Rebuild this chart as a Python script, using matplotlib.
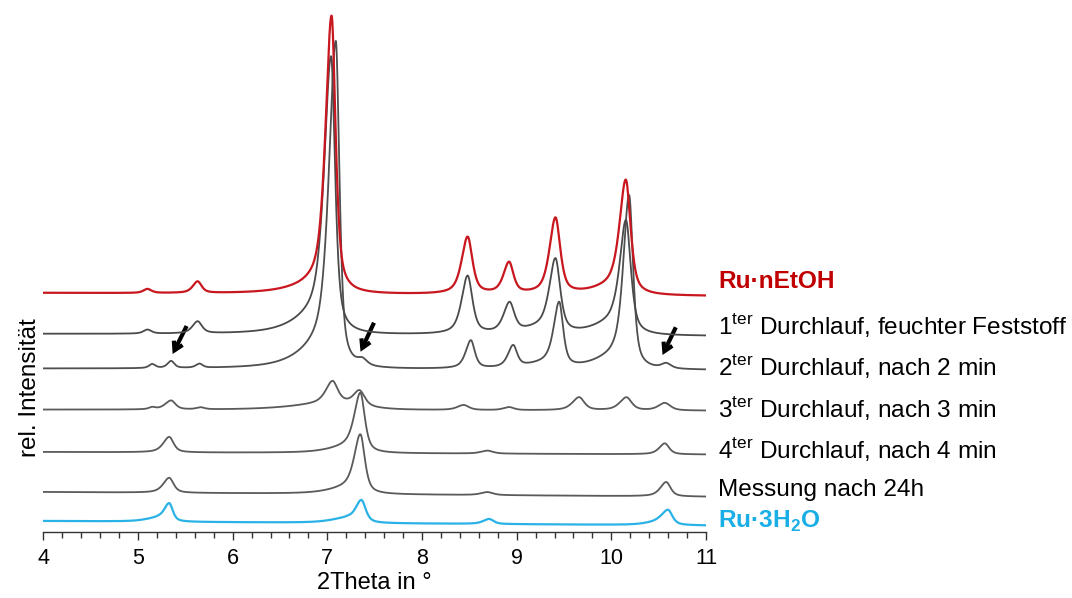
import numpy as np
import matplotlib
matplotlib.use("Agg")
import matplotlib.pyplot as plt

plt.rcParams['font.family'] = ['Liberation Sans', 'DejaVu Sans']
plt.rcParams['mathtext.fontset'] = 'custom'
plt.rcParams['mathtext.rm'] = 'Liberation Sans'
plt.rcParams['mathtext.bf'] = 'Liberation Sans:bold'

# 2Theta range of the scans
theta_min, theta_max = 4.0, 11.0

# Pattern names (top to bottom)
labels = [
    "Ru·nEtOH",
    r"1$^{\mathrm{ter}}$ Durchlauf, feuchter Feststoff",
    r"2$^{\mathrm{ter}}$ Durchlauf, nach 2 min",
    r"3$^{\mathrm{ter}}$ Durchlauf, nach 3 min",
    r"4$^{\mathrm{ter}}$ Durchlauf, nach 4 min",
    "Messung nach 24h",
    r"Ru·3H$_\mathbf{2}$O",
]

# Vertical stacking offsets (baseline at 4° and at 11°)
base_left = [238.7, 197.7, 163.0, 122.0, 79.7, 39.7, 10.7]
base_right = [235.7, 195.7, 161.7, 121.0, 77.2, 35.0, 6.2]

# Reflections of each pattern:
# (2Theta position, intensity, half width on the low-angle side, half width on the high-angle side)
peaks_etoh = [(5.10, 4, 0.05, 0.05), (5.63, 11.5, 0.06, 0.05), (6.95, 7, 0.35, 0.12),
              (7.045, 274, 0.075, 0.05),
              (8.482, 57, 0.075, 0.06), (8.92, 31, 0.07, 0.055), (9.41, 76, 0.075, 0.06),
              (10.0, 6, 0.25, 0.1), (10.153, 114, 0.08, 0.06)]
peaks_run1 = [(5.10, 4, 0.05, 0.05), (5.63, 12, 0.065, 0.055), (6.9, 14, 0.3, 0.1),
              (7.04, 274, 0.085, 0.05),
              (8.482, 58, 0.075, 0.06), (8.925, 29.5, 0.075, 0.06), (9.3, 6, 0.25, 0.1),
              (9.41, 72.5, 0.075, 0.06), (10.0, 9, 0.25, 0.1), (10.155, 113, 0.08, 0.06)]
peaks_run2 = [(5.15, 4, 0.04, 0.04), (5.35, 7, 0.045, 0.04), (5.65, 4, 0.045, 0.04),
              (6.95, 16, 0.3, 0.1), (7.09, 323, 0.085, 0.045), (7.37, 6, 0.06, 0.06),
              (8.516, 28, 0.065, 0.05), (8.963, 21.5, 0.065, 0.05), (9.3, 4, 0.25, 0.1),
              (9.449, 64.5, 0.07, 0.05), (10.0, 8, 0.25, 0.1), (10.188, 173, 0.075, 0.05),
              (10.58, 5, 0.06, 0.06)]
peaks_run3 = [(5.15, 2, 0.04, 0.04), (5.35, 9, 0.075, 0.055), (5.66, 2, 0.05, 0.05),
              (7.1, 7, 0.5, 0.3), (7.055, 21.7, 0.085, 0.065), (7.34, 15, 0.075, 0.065),
              (8.44, 5, 0.08, 0.065), (8.92, 3, 0.07, 0.06), (9.66, 13, 0.085, 0.065),
              (10.16, 13, 0.085, 0.065), (10.565, 7.5, 0.08, 0.07)]
peaks_run4 = [(5.33, 15.5, 0.075, 0.055), (7.25, 6, 0.25, 0.1), (7.35, 57.4, 0.075, 0.055),
              (8.69, 3, 0.08, 0.07), (10.565, 11, 0.07, 0.055)]
peaks_24h = [(5.33, 15, 0.075, 0.055), (7.25, 6, 0.25, 0.1), (7.35, 57, 0.075, 0.055),
             (8.69, 3, 0.08, 0.07), (10.58, 14.4, 0.075, 0.055)]
peaks_h2o = [(5.2, 3, 0.15, 0.08), (5.33, 18, 0.065, 0.045), (7.2, 4, 0.2, 0.08),
             (7.36, 22.6, 0.075, 0.055), (8.71, 5, 0.075, 0.055), (10.5, 3, 0.15, 0.08),
             (10.6, 14.3, 0.075, 0.055)]
peak_sets = [peaks_etoh, peaks_run1, peaks_run2, peaks_run3, peaks_run4, peaks_24h, peaks_h2o]

line_colors = ["#c8171e", "#4a4a4a", "#4f4f4f", "#5a5a5a", "#5a5a5a", "#5a5a5a", "#2ab2e6"]
line_widths = [1.6, 1.3, 1.3, 1.3, 1.3, 1.3, 1.6]
text_colors = ["#c00000", "#000000", "#000000", "#000000", "#000000", "#000000", "#1aaee6"]
text_bold = [True, False, False, False, False, False, True]
label_y = [250.0, 207.0, 166.0, 124.0, 83.0, 42.0, 10.0]

# Markers for the emerging reflections: (tail x, tail y, head x, head y)
arrows = [(5.514, 205.7, 5.366, 177.7),
          (7.493, 209.0, 7.351, 180.0),
          (10.681, 204.4, 10.541, 176.7)]

ETA = 0.65  # Lorentzian fraction of the pseudo-Voigt profile


def pattern(x, peaks, b0, b1):
    y = b0 + (b1 - b0) * (x - theta_min) / (theta_max - theta_min)
    for c, h, wl, wr in peaks:
        w = np.where(x < c, wl, wr)
        d = (x - c) / w
        lor = 1.0 / (1.0 + d ** 2)
        gau = np.exp(-np.log(2) * d ** 2)
        y = y + h * (ETA * lor + (1 - ETA) * gau)
    return y


fig = plt.figure(figsize=(10.72, 5.98), dpi=100)
ax = fig.add_axes([43.3 / 1072, 1 - 531.7 / 598, (706 - 43.3) / 1072, (531.7 - 5) / 598])

x = np.linspace(theta_min, theta_max, 3500)
n = len(peak_sets)
for i in range(n - 1, -1, -1):
    y = pattern(x, peak_sets[i], base_left[i], base_right[i])
    ax.plot(x, y, color=line_colors[i], lw=line_widths[i], zorder=3 + (n - i) * 0.1)

for i, lab in enumerate(labels):
    ax.text(1.018, label_y[i], lab, transform=ax.get_yaxis_transform(),
            color=text_colors[i], fontsize=17.6, va='center', ha='left',
            fontweight='bold' if text_bold[i] else 'normal', clip_on=False)

for x0, y0, x1, y1 in arrows:
    ax.annotate("", xy=(x1, y1), xytext=(x0, y0),
                arrowprops=dict(arrowstyle="->,head_length=0.6,head_width=0.35",
                                color="black", lw=3.0, shrinkA=0, shrinkB=0,
                                joinstyle='miter', capstyle='butt'))

ax.set_xlim(theta_min, theta_max)
ax.set_ylim(0, 526.7)
ax.set_xticks(np.arange(4, 12, 1))
ax.set_xticks(np.arange(4, 11.01, 0.2), minor=True)
ax.tick_params(axis='x', which='major', direction='out', length=6, width=1,
               color='#333333', labelsize=15.5, pad=6)
ax.tick_params(axis='x', which='minor', direction='out', length=4, width=1, color='#333333')
ax.set_yticks([])
for s in ['left', 'right', 'top']:
    ax.spines[s].set_visible(False)
ax.spines['bottom'].set_color('#333333')
ax.spines['bottom'].set_linewidth(1)
ax.set_xlabel("2Theta in °", fontsize=17, labelpad=2)

fig.text(30 / 1072, 1 - 388 / 598, "rel. Intensität", rotation=90,
         fontsize=17.5, va='center', ha='center')

fig.savefig("out.png", dpi=100)
